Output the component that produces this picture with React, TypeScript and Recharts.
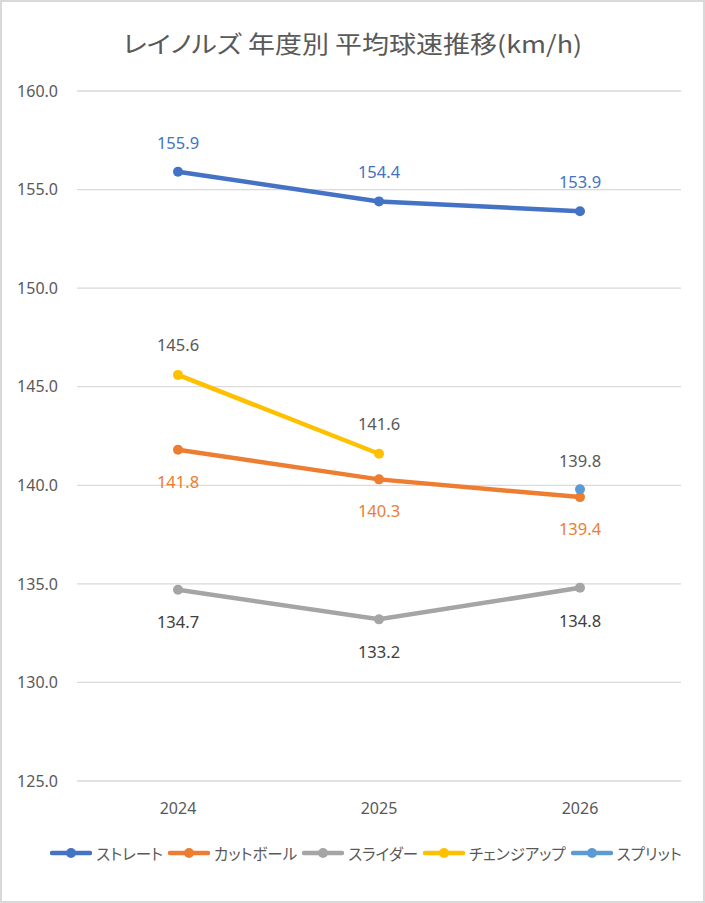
import React from "react";
import { LineChart, Line, XAxis, YAxis, CartesianGrid, Legend, LabelList } from "recharts";

const years = ["2024", "2025", "2026"];
const straight = [155.9, 154.4, 153.9];
const cutball = [141.8, 140.3, 139.4];
const slider = [134.7, 133.2, 134.8];
const changeup: (number | null)[] = [145.6, 141.6, null];
const split: (number | null)[] = [null, null, 139.8];
const yTicks = [125, 130, 135, 140, 145, 150, 155, 160];

const seriesInfo = [
  { key: "straight", name: "ストレート", color: "#4472C4" },
  { key: "cutball", name: "カットボール", color: "#ED7D31" },
  { key: "slider", name: "スライダー", color: "#A5A5A5" },
  { key: "changeup", name: "チェンジアップ", color: "#FFC000" },
  { key: "split", name: "スプリット", color: "#5B9BD5" },
];

const data = years.map((y, i) => ({
  year: y,
  straight: straight[i],
  cutball: cutball[i],
  slider: slider[i],
  changeup: changeup[i],
  split: split[i],
}));

const FONT = "'Noto Sans CJK JP', 'Noto Sans', sans-serif";
const NUMFONT = "'Noto Sans', 'Open Sans', sans-serif";

const fmt = (v: any) => (v == null ? "" : Number(v).toFixed(1));

const LegendContent = () => (
  <div
    style={{
      display: "flex",
      justifyContent: "center",
      alignItems: "center",
      height: 24,
      fontFamily: FONT,
      fontSize: 15.5,
      fontFeatureSettings: '"palt"',
      color: "#595959",
      whiteSpace: "nowrap",
      width: 705,
      paddingLeft: 32,
      boxSizing: "border-box",
    }}
  >
    {seriesInfo.map((s) => (
      <div key={s.key} style={{ display: "flex", alignItems: "center", marginRight: 5 }}>
        <svg width={42} height={12} style={{ marginRight: 4 }}>
          <line x1={2} y1={6} x2={40} y2={6} stroke={s.color} strokeWidth={4.5} strokeLinecap="round" />
          <circle cx={21} cy={6} r={5} fill={s.color} />
        </svg>
        <span>{s.name}</span>
      </div>
    ))}
  </div>
);

export default function App() {
  return (
    <div
      style={{
        position: "absolute",
        left: 0,
        top: 0,
        width: 705,
        height: 903,
        boxSizing: "border-box",
        border: "2px solid #D9D9D9",
        background: "#fff",
        overflow: "hidden",
      }}
    >
      <div
        style={{
          position: "absolute",
          top: 22,
          left: 0,
          width: 701,
          textAlign: "center",
          fontFamily: FONT,
          fontSize: 27,
          fontWeight: 400,
          fontFeatureSettings: '"palt"',
          color: "#595959",
          lineHeight: "38px",
          whiteSpace: "nowrap",
          transform: "scaleY(0.88)",
        }}
      >
        レイノルズ 年度別 平均球速推移(km/h)
      </div>
      <div style={{ position: "absolute", left: -2, top: -2 }}>
        <LineChart
          width={705}
          height={903}
          data={data}
          margin={{ top: 91, right: 24, bottom: 38, left: 0 }}
        >
          <CartesianGrid vertical={false} stroke="#D9D9D9" strokeWidth={1.3} />
          <XAxis
            dataKey="year"
            axisLine={false}
            tickLine={false}
            height={60}
            tickMargin={16}
            padding={{ left: 101, right: 101 }}
            tick={{ fill: "#595959", fontSize: 16, fontFamily: NUMFONT }}
          />
          <YAxis
            domain={[125, 160]}
            ticks={yTicks}
            width={77}
            axisLine={false}
            tickLine={false}
            tickSize={0}
            tickMargin={19}
            tickFormatter={(v: number) => v.toFixed(1)}
            tick={{ fill: "#595959", fontSize: 16, fontFamily: NUMFONT }}
          />
          <Legend verticalAlign="bottom" content={<LegendContent />} />
          <Line
            dataKey="straight"
            name="ストレート"
            stroke="#4472C4"
            strokeWidth={4.5}
            dot={{ r: 5, fill: "#4472C4", stroke: "#4472C4", strokeWidth: 0 }}
            isAnimationActive={false}
          >
            <LabelList dataKey="straight" position="top" offset={23} formatter={fmt} fill="#4472C4" fontSize={16.5} fontFamily={NUMFONT} />
          </Line>
          <Line
            dataKey="cutball"
            name="カットボール"
            stroke="#ED7D31"
            strokeWidth={4.5}
            dot={{ r: 5, fill: "#ED7D31", stroke: "#ED7D31", strokeWidth: 0 }}
            isAnimationActive={false}
          >
            <LabelList dataKey="cutball" position="bottom" offset={26} formatter={fmt} fill="#ED7D31" fontSize={16.5} fontFamily={NUMFONT} />
          </Line>
          <Line
            dataKey="slider"
            name="スライダー"
            stroke="#A5A5A5"
            strokeWidth={4.5}
            dot={{ r: 5, fill: "#A5A5A5", stroke: "#A5A5A5", strokeWidth: 0 }}
            isAnimationActive={false}
          >
            <LabelList dataKey="slider" position="bottom" offset={27} formatter={fmt} fill="#404040" fontSize={16.5} fontFamily={NUMFONT} />
          </Line>
          <Line
            dataKey="changeup"
            name="チェンジアップ"
            stroke="#FFC000"
            strokeWidth={4.5}
            dot={{ r: 5, fill: "#FFC000", stroke: "#FFC000", strokeWidth: 0 }}
            isAnimationActive={false}
          >
            <LabelList dataKey="changeup" position="top" offset={24} formatter={fmt} fill="#595959" fontSize={16.5} fontFamily={NUMFONT} />
          </Line>
          <Line
            dataKey="split"
            name="スプリット"
            stroke="#5B9BD5"
            strokeWidth={4.5}
            dot={{ r: 5, fill: "#5B9BD5", stroke: "#5B9BD5", strokeWidth: 0 }}
            isAnimationActive={false}
          >
            <LabelList dataKey="split" position="top" offset={22} formatter={fmt} fill="#595959" fontSize={16.5} fontFamily={NUMFONT} />
          </Line>
        </LineChart>
      </div>
    </div>
  );
}
